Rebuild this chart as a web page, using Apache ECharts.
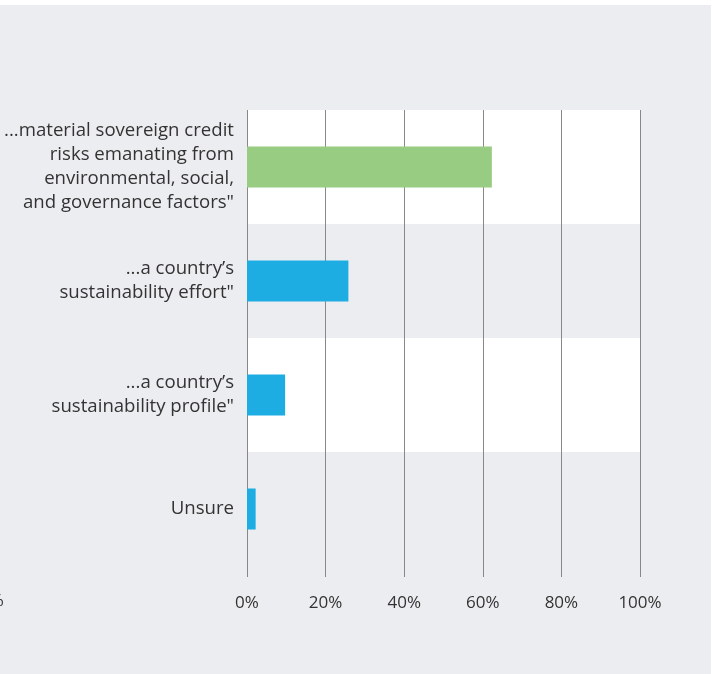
<!DOCTYPE html>
<html>
<head>
<meta charset="utf-8">
<script src="https://cdn.jsdelivr.net/npm/echarts@6/dist/echarts.min.js"></script>
<style>
html,body{margin:0;padding:0;background:#fff;}
#c{width:717px;height:674px;}
</style>
</head>
<body>
<div id="c"></div>
<script>
const categories = [
  '...material sovereign credit\nrisks emanating from\nenvironmental, social,\nand governance factors"',
  '...a country\u2019s\nsustainability effort"',
  '...a country\u2019s\nsustainability profile"',
  'Unsure'
];
const values = [62.3, 25.8, 9.7, 2.2];
const barColors = ['#97cc82', '#1dade3', '#1dade3', '#1dade3'];
const xTicks = [0, 20, 40, 60, 80, 100];

const BG = '#ecedf0';
const FONT = '"Open Sans", "Noto Sans", sans-serif';
const chart = echarts.init(document.getElementById('c'), null, {renderer: 'canvas'});
chart.setOption({
  animation: false,
  backgroundColor: '#ffffff',
  graphic: [
    {type: 'rect', z: -10, shape: {x: 0, y: 5, width: 711, height: 669}, style: {fill: BG}, silent: true},
    {type: 'text', left: -20, top: 593, style: {text: '0%', fill: '#333', font: '17px ' + FONT}, silent: true}
  ],
  grid: {left: 247, right: 77, top: 110, bottom: 108, containLabel: false},
  xAxis: {
    type: 'value', min: 0, max: 100, interval: 20,
    axisLine: {show: false},
    axisTick: {show: true, length: 11, lineStyle: {color: '#888', width: 1}},
    splitLine: {show: true, lineStyle: {color: '#888', width: 1}},
    axisLabel: {margin: 29, color: '#333', fontSize: 17, fontFamily: FONT,
      formatter: v => xTicks.includes(v) ? v + '%' : ''}
  },
  yAxis: {
    type: 'category', inverse: true, data: categories,
    axisLine: {show: false}, axisTick: {show: false},
    splitArea: {show: true, areaStyle: {color: ['#ffffff', BG]}},
    axisLabel: {margin: 13, color: '#333', fontSize: 18.6, lineHeight: 24, fontFamily: FONT, align: 'right'}
  },
  series: [{
    type: 'bar', barWidth: 41,
    data: values.map((v, i) => ({value: v, itemStyle: {color: barColors[i]}}))
  }]
});
</script>
</body>
</html>
